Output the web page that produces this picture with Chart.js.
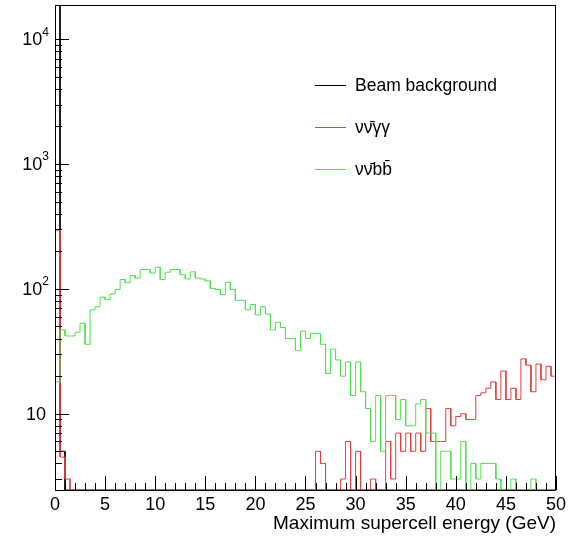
<!DOCTYPE html>
<html>
<head>
<meta charset="utf-8">
<script src="https://cdn.jsdelivr.net/npm/chart.js@4.4.1/dist/chart.umd.min.js"></script>
<style>
  body { margin: 0; background: #fff; }
  canvas { display: block; }
</style>
</head>
<body>
<canvas id="histo" width="570" height="537"></canvas>
<script>
// bins de 0.5 GeV, de 0 a 50 GeV
const binWidth = 0.5;
const xTicks = [0, 5, 10, 15, 20, 25, 30, 35, 40, 45, 50];
const yTicks = [10, 100, 1000, 10000];
const yMin = 2.45;
const yMax = 18800;

const beamCounts = [
  25000, 5, 0, 0, 0, 0, 0, 0, 0, 0,
  0, 0, 0, 0, 0, 0, 0, 0, 0, 0,
  0, 0, 0, 0, 0, 0, 0, 0, 0, 0,
  0, 0, 0, 0, 0, 0, 0, 0, 0, 0,
  0, 0, 0, 0, 0, 0, 0, 0, 0, 0,
  0, 0, 0, 0, 0, 0, 0, 0, 0, 0,
  0, 0, 0, 0, 0, 0, 0, 0, 0, 0,
  0, 0, 0, 0, 0, 0, 0, 0, 0, 0,
  0, 0, 0, 0, 0, 0, 0, 0, 0, 0,
  0, 0, 0, 0, 0, 0, 0, 0, 0, 0
];

const gammaCounts = [
  295, 4.5, 3, 0, 0, 0, 0, 0, 0, 0,
  0, 0, 0, 0, 0, 0, 0, 0, 0, 0,
  0, 0, 0, 0, 0, 0, 0, 0, 0, 0,
  0, 0, 0, 0, 0, 0, 0, 0, 0, 0,
  0, 0, 0, 0, 0, 0, 0, 0, 0, 0,
  0, 0, 5, 4, 0, 0, 0, 3, 6, 0,
  5, 0, 0, 3, 0, 0, 6, 3, 7, 5,
  7, 5, 7, 5, 11, 6, 6, 6, 11, 8,
  9.5, 10, 9, 9, 14, 14.7, 16, 18, 13, 22,
  13, 16, 13, 27.5, 24.5, 15, 25, 18.7, 24, 20
];

const bbCounts = [
  18, 47, 42, 42, 45, 53, 36, 68, 72, 86,
  82, 91, 99, 119, 112, 128, 122, 143, 143, 134,
  149, 119, 136, 143, 143, 130, 120, 137, 122, 120,
  116, 101, 99, 90, 113, 99, 81, 81, 68, 75,
  62, 72, 63, 47, 54, 49, 40, 40, 32, 46,
  40, 44, 44, 36, 21, 33, 27, 20, 26, 14,
  26, 15, 11, 6, 14, 5, 14, 14, 9, 13,
  8, 8, 12, 13, 7, 7, 0, 5, 5, 3,
  3, 6, 0, 4, 3, 4, 4, 4, 3, 0,
  0, 3, 0, 0, 0, 3, 0, 0, 0, 0
];

const labels = ["Beam background", "\u03bd\u03bd\u0304\u03b3\u03b3", "\u03bd\u03bd\u0304bb\u0304"];
const colors = ["#000000", "#e04040", "#52e052"];

const FONT = '"Liberation Sans", Arial, sans-serif';

// contorno do histograma: cada bin vira dois pontos (borda esquerda e direita)
// bins vazios ficam no fundo do frame, como no ROOT
function outline(counts) {
  const pts = [];
  counts.forEach((c, i) => {
    const y = c > 0 ? c : yMin;
    pts.push({ x: i * binWidth, y: y });
    pts.push({ x: (i + 1) * binWidth, y: y });
  });
  return pts;
}

// frame, ticks internos, labels do eixo y e legenda
const rootStyle = {
  id: "rootStyle",
  afterDatasetsDraw(chart) {
    const { ctx, chartArea: a, scales: { x, y } } = chart;
    ctx.save();
    ctx.strokeStyle = "#000";
    ctx.lineWidth = 1;
    ctx.beginPath();
    // ticks do eixo x
    for (let v = 0; v <= 50; v++) {
      const px = Math.round(x.getPixelForValue(v)) + 0.5;
      const len = v % 5 === 0 ? 14 : 7;
      ctx.moveTo(px, a.bottom);
      ctx.lineTo(px, a.bottom - len);
    }
    // ticks do eixo y (log)
    for (let d = 0; d <= 4; d++) {
      for (let m = 1; m <= 9; m++) {
        const v = m * Math.pow(10, d);
        if (v < yMin || v > yMax) continue;
        const py = Math.round(y.getPixelForValue(v)) + 0.5;
        const len = m === 1 ? 14 : 7;
        ctx.moveTo(a.left, py);
        ctx.lineTo(a.left + len, py);
      }
    }
    ctx.stroke();

    // frame
    ctx.strokeRect(a.left + 0.5, a.top + 0.5, a.right - a.left - 1, a.bottom - a.top);

    // labels do eixo y: 10, 10^2, 10^3, 10^4
    ctx.fillStyle = "#000";
    ctx.textBaseline = "middle";
    ctx.textAlign = "right";
    yTicks.forEach(v => {
      const py = y.getPixelForValue(v);
      const exp = Math.round(Math.log10(v));
      if (exp === 1) {
        ctx.font = "18px " + FONT;
        ctx.fillText("10", a.left - 9, py + 1);
      } else {
        ctx.font = "12px " + FONT;
        const ew = ctx.measureText(String(exp)).width;
        ctx.fillText(String(exp), a.left - 6, py - 7);
        ctx.font = "18px " + FONT;
        ctx.fillText("10", a.left - 6 - ew, py + 1);
      }
    });

    // legenda
    const rows = [85, 127, 169];
    ctx.textAlign = "left";
    ctx.font = "17.5px " + FONT;
    chart.data.datasets.forEach((ds, i) => {
      ctx.strokeStyle = ds.borderColor;
      ctx.beginPath();
      ctx.moveTo(315, rows[i] + 0.5);
      ctx.lineTo(346, rows[i] + 0.5);
      ctx.stroke();
      ctx.fillStyle = "#000";
      ctx.fillText(ds.label, 355, rows[i] + 1);
    });
    ctx.restore();
  }
};

const datasetsList = [beamCounts, gammaCounts, bbCounts].map((counts, i) => ({
  label: labels[i],
  data: outline(counts),
  borderColor: colors[i],
  borderWidth: 1,
  pointRadius: 0,
  fill: false,
  tension: 0,
  order: 3 - i, // verde por cima, como no original
  clip: { left: 0, top: 0, right: 0, bottom: 2 }
}));

new Chart(document.getElementById("histo"), {
  type: "line",
  data: { datasets: datasetsList },
  options: {
    responsive: false,
    animation: false,
    layout: { padding: { top: 5, right: 11, left: 0, bottom: 0 } },
    scales: {
      x: {
        type: "linear",
        min: 0,
        max: 50,
        afterBuildTicks: s => { s.ticks = xTicks.map(v => ({ value: v })); },
        afterFit: s => { s.height = 47; },
        grid: { display: false, drawTicks: false },
        border: { display: false },
        ticks: {
          color: "#000",
          padding: 4,
          maxRotation: 0,
          autoSkip: false,
          font: { size: 18, family: FONT }
        },
        title: {
          display: true,
          text: "Maximum supercell energy (GeV)",
          align: "end",
          color: "#000",
          padding: { top: 0, bottom: 2 },
          font: { size: 19, family: FONT }
        }
      },
      y: {
        type: "logarithmic",
        min: yMin,
        max: yMax,
        afterFit: s => { s.width = 55; },
        grid: { display: false, drawTicks: false },
        border: { display: false },
        ticks: { display: false }
      }
    },
    plugins: {
      legend: { display: false },
      tooltip: { enabled: false }
    }
  },
  plugins: [rootStyle]
});
</script>
</body>
</html>
